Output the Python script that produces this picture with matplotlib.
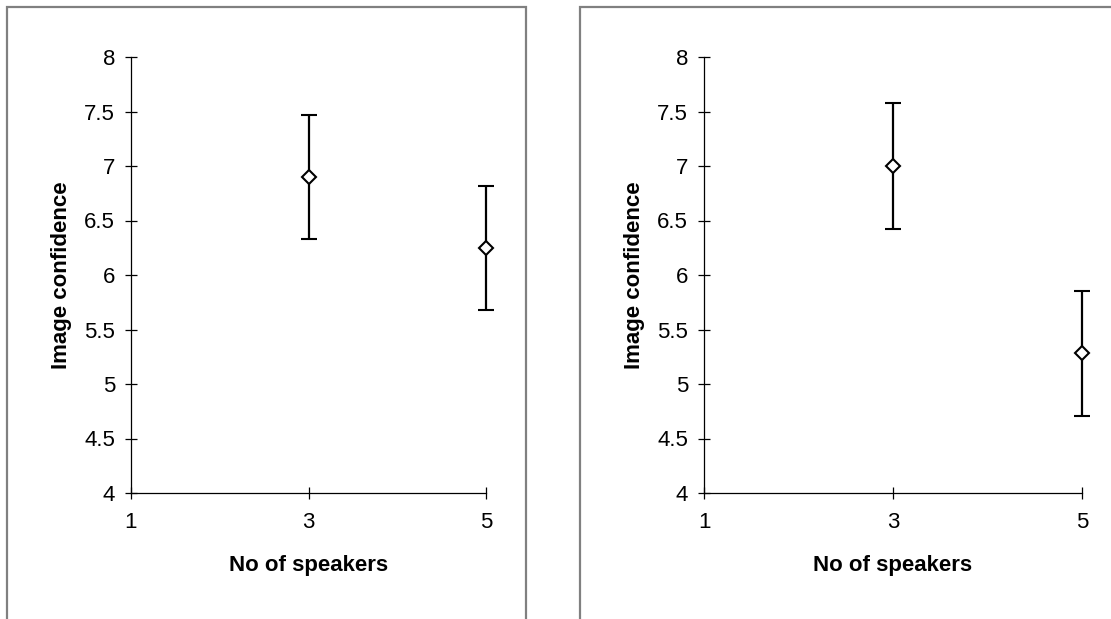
import matplotlib
matplotlib.use("Agg")
import matplotlib.pyplot as plt
from matplotlib.patches import Rectangle
from matplotlib.ticker import FormatStrFormatter


#____Data
speakers = [3, 5]
left_conf = [6.90, 6.25]
left_err = [0.57, 0.57]
right_conf = [7.00, 5.28]
right_err = [0.575, 0.575]

y_ticks = [4, 4.5, 5, 5.5, 6, 6.5, 7, 7.5, 8]
x_ticks = [1, 3, 5]

plt.rcParams['font.family'] = ['Liberation Sans', 'DejaVu Sans']


#____Graph Display
def draw_panel(ax, x, y, err):
    # points with symmetric error bars, allowed to spill over the axes edge
    ax.errorbar(x, y, yerr=err, fmt='D', color='black', ecolor='black',
                elinewidth=1.6, capsize=6, capthick=1.6,
                markersize=7, markerfacecolor='white', markeredgecolor='black',
                markeredgewidth=1.5, zorder=3, clip_on=False)

    ax.set_xlim(1, 5)
    ax.set_ylim(4, 8)
    ax.set_xticks(x_ticks)
    ax.set_yticks(y_ticks)
    ax.yaxis.set_major_formatter(FormatStrFormatter('%g'))

    for side in ['top', 'right']:
        ax.spines[side].set_visible(False)
    for side in ['left', 'bottom']:
        ax.spines[side].set_linewidth(0.9)

    ax.tick_params(direction='inout', length=9, width=0.9, labelsize=16)
    ax.tick_params(axis='y', pad=7)
    ax.tick_params(axis='x', pad=9)
    ax.set_xlabel("No of speakers", fontsize=16, fontweight='bold', labelpad=16)
    ax.set_ylabel("Image confidence", fontsize=16, fontweight='bold', labelpad=9)


fig = plt.figure(figsize=(11.11, 6.19), dpi=100)

# chart-area frames around each panel
fig.patches.append(Rectangle((7 / 1111, -0.05), 519 / 1111, 1.05 - 7 / 619,
                             transform=fig.transFigure, fill=False,
                             edgecolor='#808080', linewidth=1.6))
fig.patches.append(Rectangle((580 / 1111, -0.05), 0.6, 1.05 - 7 / 619,
                             transform=fig.transFigure, fill=False,
                             edgecolor='#808080', linewidth=1.6))

ax1 = fig.add_axes([131 / 1111, 126 / 619, 355 / 1111, 436 / 619])
ax2 = fig.add_axes([704 / 1111, 126 / 619, 378 / 1111, 436 / 619])

draw_panel(ax1, speakers, left_conf, left_err)
draw_panel(ax2, speakers, right_conf, right_err)

fig.savefig("out.png", dpi=100)
